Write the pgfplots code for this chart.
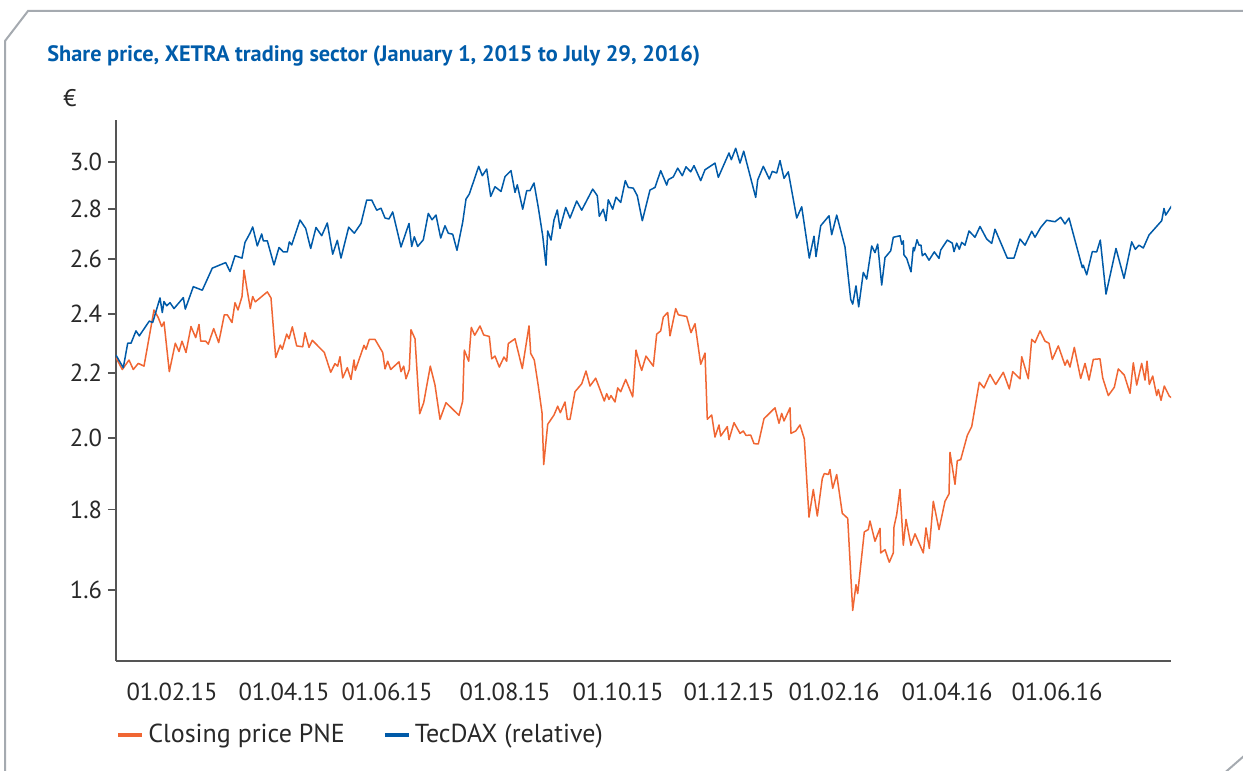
\documentclass[border=0pt]{standalone}
\usepackage{fontspec}
\setmainfont{PT Sans}
\usepackage{pgfplots}
\pgfplotsset{compat=1.18}
\definecolor{pneorange}{RGB}{240,102,51}
\definecolor{tecblue}{RGB}{0,90,168}
\definecolor{titleblue}{RGB}{0,92,170}
\definecolor{framegray}{RGB}{165,170,176}
\definecolor{axisgray}{RGB}{85,85,85}
\definecolor{textgray}{RGB}{40,40,40}
\begin{document}
\begin{tikzpicture}[x=0.5pt,y=0.5pt]
\path[use as bounding box] (0,0) rectangle (1243,771);
\draw[framegray, line width=1pt] (5,-5) -- (5,730) -- (28,760) -- (1260,760);
\draw[framegray, line width=1pt] (1221,-5) -- (1252,22);
\node[anchor=base west, font=\bfseries\fontsize{11.15}{12}\selectfont, text=titleblue, inner sep=0pt] at (47,709) {Share price, XETRA trading sector (January 1, 2015 to July 29, 2016)};
\node[font=\fontsize{12}{14}\selectfont, text=textgray] at (70,673) {€};
\begin{axis}[
  at={(58pt,55pt)}, anchor=south west,
  scale only axis, width=527.5pt, height=270.5pt,
  xmin=0, xmax=1055, ymode=log, ymin=1.441, ymax=3.19,
  axis lines*=left,
  axis line style={axisgray, line width=0.9pt, -},
  xtick={56,168,271,389,502,613,718,831,941},
  xticklabels={01.02.15,01.04.15,01.06.15,01.08.15,01.10.15,01.12.15,01.02.16,01.04.16,01.06.16},
  major x tick style={draw=none},
  ytick={1.6,1.8,2.0,2.2,2.4,2.6,2.8,3.0},
  yticklabels={1.6,1.8,2.0,2.2,2.4,2.6,2.8,3.0},
  yminorticks=false, xminorticks=false,
  tick align=outside, major tick length=4pt,
  major y tick style={axisgray, line width=0.9pt},
  tick label style={font=\fontsize{12.3}{14}\selectfont, text=textgray},
  xticklabel style={yshift=-3.5pt},
  yticklabel style={xshift=0.5pt},
  legend style={draw=none, fill=none, at={(0,-0.137)}, anchor=west, legend columns=2,
    font=\fontsize{13}{15}\selectfont, text=textgray, inner sep=0pt,
    /tikz/every even column/.append style={column sep=17pt}},
  legend image code/.code={\draw[line width=2pt] (0pt,0pt) -- (12pt,0pt);},
  every axis plot/.append style={line width=0.75pt, line join=round},
]
\addplot[pneorange] coordinates {(0,2.250) (6.3,2.211) (13,2.242) (17.3,2.211) (22.3,2.231) (28,2.222) (38,2.413) (42.3,2.386) (45.7,2.355) (48,2.371) (53.3,2.204) (59.3,2.298) (63,2.270) (66,2.305) (70,2.267) (75,2.355) (79.7,2.317) (83,2.362) (84.7,2.305) (89.7,2.305) (92.3,2.295) (97.7,2.348) (102.7,2.300) (108.3,2.396) (111.3,2.396) (116,2.369) (119,2.439) (122,2.413) (126,2.461) (128,2.558) (131,2.488) (134.3,2.418) (136.7,2.461) (139.3,2.442) (151.3,2.478) (155,2.456) (159.7,2.250) (164.3,2.292) (166.3,2.278) (170.7,2.329) (173,2.313) (176.3,2.354) (180.7,2.289) (186.7,2.286) (189,2.334) (193,2.284) (196.3,2.308) (208.3,2.267) (214.7,2.202) (219,2.230) (221.7,2.222) (224,2.253) (226.7,2.184) (231.3,2.217) (235,2.179) (238,2.242) (239.3,2.208) (248,2.291) (250,2.278) (253.3,2.311) (259,2.311) (266.7,2.267) (269,2.213) (271.7,2.238) (274.7,2.211) (283,2.236) (285,2.204) (287.7,2.222) (290,2.181) (293.3,2.211) (295,2.344) (299,2.313) (303.7,2.072) (307.7,2.106) (314.3,2.222) (319,2.161) (324,2.055) (330,2.106) (343,2.067) (346.7,2.111) (348.3,2.275) (352.7,2.238) (355.3,2.352) (358.7,2.325) (364,2.357) (367.7,2.326) (373.3,2.321) (375.7,2.246) (379,2.255) (383.3,2.219) (388,2.252) (390.7,2.238) (392.3,2.297) (399,2.313) (406.3,2.214) (413,2.357) (414.7,2.264) (418.3,2.242) (422.3,2.158) (426,2.075) (427.7,1.923) (431.7,2.040) (438,2.068) (441.7,2.095) (444.3,2.075) (449,2.108) (451.3,2.055) (454,2.055) (459,2.140) (465.7,2.165) (470,2.206) (474,2.158) (479.7,2.183) (488.3,2.111) (490.7,2.134) (493,2.116) (495,2.128) (499,2.108) (501.7,2.152) (504.7,2.140) (509.7,2.179) (516.7,2.124) (520,2.275) (524,2.225) (525.7,2.208) (530,2.255) (537.3,2.222) (540.7,2.329) (544.7,2.340) (547.3,2.388) (551.7,2.404) (554,2.323) (559.7,2.418) (562.3,2.396) (570.7,2.390) (575,2.334) (579,2.365) (584.7,2.228) (589,2.265) (591.3,2.055) (595.7,2.068) (599,2.002) (603,2.038) (604.7,2.005) (611.3,2.033) (613,1.995) (618,2.045) (624,2.013) (627.3,2.020) (630,2.007) (634.7,2.008) (638,1.983) (642.3,1.982) (648,2.057) (654,2.075) (659,2.090) (663,2.043) (665.7,2.073) (668,2.050) (674,2.090) (675,2.013) (679.7,2.020) (684,2.038) (688.3,1.997) (693,1.780) (697.3,1.854) (701.3,1.783) (706.3,1.884) (708.3,1.898) (712.3,1.895) (714,1.909) (716.7,1.857) (720.7,1.895) (726.3,1.790) (731.7,1.777) (736.7,1.552) (740,1.612) (741.7,1.591) (748.3,1.742) (752.3,1.748) (754,1.770) (759,1.718) (764,1.751) (764.7,1.689) (769,1.697) (773.3,1.666) (777.3,1.689) (778,1.755) (780.7,1.787) (784,1.854) (787.3,1.708) (790,1.774) (795,1.708) (799,1.737) (807.3,1.689) (810,1.752) (813.3,1.700) (817.3,1.822) (823,1.748) (829,1.822) (833,1.842) (834,1.958) (839,1.868) (841.3,1.934) (844.7,1.937) (851.3,2.007) (855.7,2.033) (863.3,2.170) (868,2.152) (874,2.195) (879.7,2.163) (887.3,2.202) (893.3,2.149) (896.7,2.204) (904,2.181) (905.7,2.253) (912.3,2.181) (915.7,2.311) (919,2.300) (924,2.340) (929,2.305) (933,2.298) (936.3,2.244) (942.3,2.289) (949,2.225) (951.3,2.242) (954,2.219) (958.3,2.284) (964.7,2.182) (969,2.231) (973,2.177) (977.3,2.244) (984,2.246) (986.7,2.184) (992.3,2.128) (998.3,2.154) (1002.3,2.213) (1008.3,2.193) (1014,2.135) (1017.3,2.233) (1020.7,2.161) (1025.7,2.231) (1029,2.177) (1031,2.238) (1033.3,2.163) (1036.7,2.190) (1040.7,2.128) (1042.3,2.147) (1045,2.113) (1048.3,2.158) (1053.3,2.126) (1055.7,2.121)};
\addlegendentry{Closing price PNE}
\addplot[tecblue] coordinates {(0,2.258) (7.3,2.217) (11.7,2.298) (15,2.298) (20,2.340) (23.3,2.323) (33.3,2.374) (36.7,2.369) (44,2.456) (46.3,2.404) (48,2.443) (50.7,2.428) (54,2.439) (58,2.418) (67.3,2.457) (69.3,2.416) (77.3,2.497) (86.3,2.484) (96.3,2.566) (109.7,2.587) (114,2.553) (119,2.613) (126,2.604) (129,2.665) (134,2.701) (136.7,2.726) (141.3,2.651) (145.7,2.698) (147.3,2.671) (151.3,2.671) (158,2.578) (163,2.645) (167.3,2.628) (171.3,2.628) (173.3,2.667) (175.7,2.655) (184,2.754) (189.7,2.720) (194.7,2.641) (200,2.724) (205.7,2.691) (211.3,2.742) (216.7,2.619) (221.3,2.673) (225,2.604) (232.7,2.725) (238.3,2.701) (245,2.740) (250.7,2.836) (255.7,2.836) (260.7,2.794) (265,2.802) (269,2.762) (273,2.758) (276.7,2.787) (285,2.647) (293,2.740) (295.7,2.649) (298.3,2.687) (301.7,2.649) (307.3,2.675) (312.3,2.781) (316,2.755) (320,2.774) (324.7,2.682) (329,2.731) (332.3,2.701) (336.7,2.697) (341,2.634) (346.7,2.745) (350,2.840) (353.3,2.861) (362.7,2.980) (366.3,2.939) (370.7,2.968) (374.7,2.851) (379,2.892) (385,2.872) (389,2.935) (395,2.961) (399,2.868) (401.3,2.900) (406.7,2.798) (410.7,2.875) (414,2.875) (418,2.908) (422.3,2.805) (426.7,2.691) (430,2.577) (431.7,2.710) (435,2.674) (438,2.754) (441.3,2.795) (444,2.720) (449.7,2.805) (454,2.762) (460.7,2.832) (465.7,2.794) (476.7,2.882) (481.3,2.854) (483.3,2.769) (487.3,2.798) (490,2.751) (492.3,2.837) (496.7,2.798) (500,2.848) (504.7,2.826) (509.3,2.918) (512.3,2.889) (517.3,2.886) (521.3,2.854) (524,2.798) (526.3,2.751) (534,2.878) (539,2.889) (544.7,2.961) (550.7,2.899) (552.3,2.922) (557.3,2.934) (561.7,2.972) (566.3,2.939) (570,2.978) (574.7,2.956) (578,2.983) (584.7,2.918) (589,2.965) (599,2.994) (602.3,2.932) (613,3.039) (615.3,3.009) (619.7,3.060) (624,2.994) (627.7,3.047) (639.7,2.847) (641.7,2.921) (647.3,2.980) (653.3,2.925) (656.3,2.958) (660.7,2.951) (664,3.005) (668,2.928) (672.3,2.956) (680.7,2.762) (685.7,2.808) (693.3,2.604) (698,2.689) (700,2.610) (704.7,2.731) (713,2.771) (715.7,2.695) (720.7,2.774) (729,2.647) (734.7,2.451) (736.7,2.434) (740,2.500) (742.7,2.424) (747.3,2.550) (750.7,2.525) (755.7,2.651) (759,2.625) (761.7,2.658) (765.7,2.503) (769,2.606) (774.7,2.632) (777.3,2.685) (784,2.691) (785.7,2.658) (787.3,2.671) (788,2.616) (790.7,2.603) (795,2.552) (797.3,2.645) (798.3,2.632) (801,2.675) (803,2.654) (805,2.654) (806.3,2.613) (809,2.622) (813,2.596) (818.3,2.628) (823,2.603) (824.7,2.635) (831.3,2.674) (836.3,2.662) (838,2.629) (840.7,2.662) (843.3,2.638) (845.7,2.665) (849,2.654) (853,2.710) (859,2.685) (864,2.728) (870.7,2.678) (875.7,2.661) (879,2.717) (891.3,2.604) (898,2.604) (904,2.678) (909,2.654) (915.7,2.709) (919,2.685) (924.7,2.724) (930.7,2.753) (939,2.747) (944.7,2.765) (949,2.738) (953,2.762) (966.3,2.568) (967.3,2.577) (970.7,2.541) (976.3,2.629) (980.7,2.628) (984.3,2.674) (990,2.470) (1000,2.641) (1008,2.528) (1015.7,2.667) (1019.3,2.638) (1023,2.654) (1027.3,2.643) (1033,2.694) (1045.7,2.751) (1048,2.801) (1049.7,2.774) (1055.7,2.812)};
\addlegendentry{TecDAX (relative)}
\end{axis}
\end{tikzpicture}
\end{document}
